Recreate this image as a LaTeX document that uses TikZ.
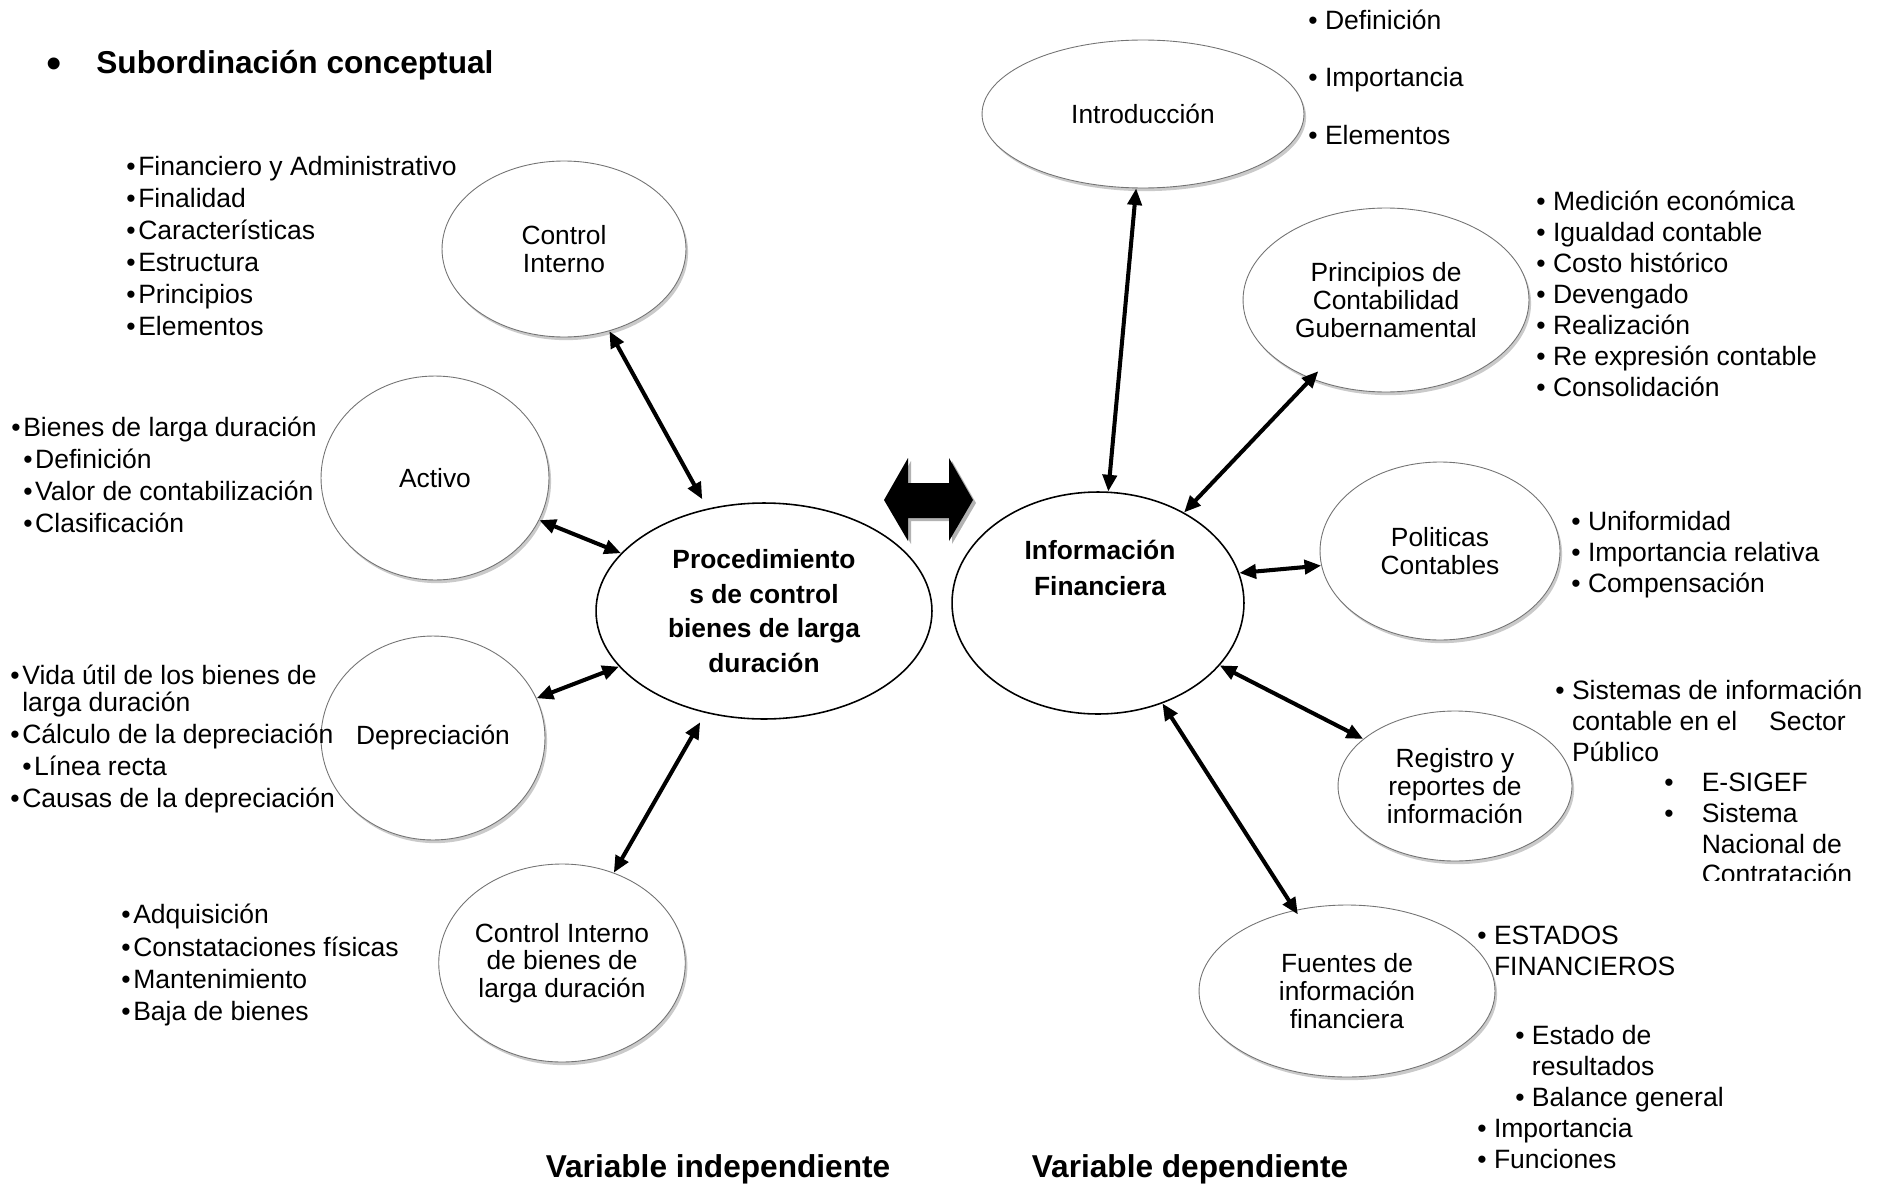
\documentclass[tikz,border=0pt]{standalone}
\usepackage{fontspec}
\setmainfont{Liberation Sans}
\usetikzlibrary{arrows.meta, shapes.geometric, shadows, positioning}

\newcommand{\itm}{\textbullet\kern1.5pt}
\newcommand{\ritm}{\textbullet\ }

\tikzset{
  bubble/.style={ellipse, draw=black!55, line width=0.5pt, fill=white, inner sep=0pt, align=center,
    drop shadow={shadow xshift=1.2pt, shadow yshift=-1.8pt, opacity=0.35, fill=black!60},
    font=\fontsize{15}{15.8}\selectfont},
  core/.style={ellipse, draw, line width=0.9pt, fill=white, inner sep=0pt, align=center,
    font=\bfseries\fontsize{15}{19.8}\selectfont},
  coretext/.style={inner sep=0pt, align=center, font=\bfseries\fontsize{15}{21}\selectfont},
  items/.style={anchor=north west, inner sep=0pt, align=left, font=\fontsize{15.1}{#1}\selectfont},
  items/.default=18.2pt,
  link/.style={<->, >={Triangle[length=9.5pt, width=8pt]}, line width=2.3pt},
  heading/.style={anchor=base, inner sep=0pt, font=\bfseries\fontsize{18}{22}\selectfont},
}

\begin{document}
\begin{tikzpicture}[x=0.02cm, y=-0.02cm]
\useasboundingbox (0,0) rectangle (1889,1186);

% title
\node[anchor=base, inner sep=0pt, font=\fontsize{25}{25}\selectfont] (tbul) at (54,79) {\textbullet};
\node[heading, anchor=base west] (title) at (96,73) {Subordinación conceptual};

% independent variable
\node[core, minimum width=6.72cm, minimum height=4.32cm] (proc) at (764,611)
  {Procedimiento\\s de control\\bienes de larga\\duración};
\node[bubble, minimum width=4.88cm, minimum height=3.52cm] (ci) at (564,249) {Control\\Interno};
\node[bubble, minimum width=4.56cm, minimum height=4.08cm] (act) at (435,478) {Activo};
\node[bubble, minimum width=4.48cm, minimum height=4.08cm] (dep) at (433,738) {Depreciación};
\node[bubble, minimum width=4.84cm, minimum height=3.96cm] (cib) at (562,963)
  {Control Interno\\de bienes de\\larga duración};

\node[items] (ci-list) at (126,156) {\itm Financiero y Administrativo\\\itm Finalidad\\
  \itm Características\\\itm Estructura\\\itm Principios\\\itm Elementos};
\node[items] (act-list) at (11,417) {\itm Bienes de larga duración\\
  \hspace*{6.8pt}\itm Definición\\\hspace*{6.8pt}\itm Valor de contabilización\\
  \hspace*{6.8pt}\itm Clasificación};
\node[items] (dep-list) at (10,665) {\itm Vida útil de los bienes de\\[-2.8pt]
  \phantom{\itm}larga duración\\\itm Cálculo de la depreciación\\
  \hspace*{6.8pt}\itm Línea recta\\\itm Causas de la depreciación};
\node[items=18.4pt] (cib-list) at (121,904) {\itm Adquisición\\\itm Constataciones físicas\\
  \itm Mantenimiento\\\itm Baja de bienes};

\draw[link, shorten >=6pt] (ci) -- (proc);
\draw[link] (act) -- (proc);
\draw[link] (dep) -- (proc);
\draw[link, shorten >=6pt] (cib) -- (proc);

% middle arrow
\begin{scope}[shift={(3,3)}]
  \fill[black!30] (884,500) -- (908,458) -- (908,483) -- (949,483) -- (949,458) -- (973,500)
    -- (949,541) -- (949,518) -- (908,518) -- (908,541) -- cycle;
\end{scope}
\fill (884,500) -- (908,458) -- (908,483) -- (949,483) -- (949,458) -- (973,500)
  -- (949,541) -- (949,518) -- (908,518) -- (908,541) -- cycle;

% dependent variable
\node[core, minimum width=5.84cm, minimum height=4.44cm] (info) at (1098,603) {};
\node[coretext] (info-text) at (1100,568) {Información\\Financiera};
\node[bubble, minimum width=6.44cm, minimum height=2.96cm] (intro) at (1143,114) {Introducción};
\node[bubble, minimum width=5.72cm, minimum height=3.68cm] (prin) at (1386,300)
  {Principios de\\Contabilidad\\Gubernamental};
\node[bubble, minimum width=4.8cm, minimum height=3.56cm] (pol) at (1440,551) {Politicas\\Contables};
\node[bubble, minimum width=4.68cm, minimum height=3.0cm] (reg) at (1455,786)
  {Registro y\\reportes de\\información};
\node[bubble, minimum width=5.92cm, minimum height=3.44cm] (fue) at (1347,991)
  {Fuentes de\\información\\financiera};

\node[items=32.5pt] (intro-list) at (1308,10) {\ritm Definición\\\ritm Importancia\\\ritm Elementos};
\node[items=17.6pt] (prin-list) at (1536,191) {\ritm Medición económica\\\ritm Igualdad contable\\
  \ritm Costo histórico\\\ritm Devengado\\\ritm Realización\\\ritm Re expresión contable\\
  \ritm Consolidación};
\node[items=17.5pt] (pol-list) at (1571,511) {\ritm Uniformidad\\\ritm Importancia relativa\\
  \ritm Compensación};
\node[items=17.4pt] (reg-list) at (1555,680) {\ritm Sistemas de información\\
  \phantom{\textbullet}\ contable en el\hspace{14pt} Sector\\\phantom{\textbullet}\ Público};
\begin{scope}
  \clip (1600,640) rectangle (1889,880);
  \node[items=17.4pt] (reg-sub) at (1664,773) {\textbullet\hspace{16pt}E-SIGEF\\
    \textbullet\hspace{16pt}Sistema\\\phantom{\textbullet}\hspace{16pt}Nacional de\\
    \phantom{\textbullet}\hspace{16pt}Contratación};
\end{scope}
\node[items=17.6pt] (fue-list) at (1477,926) {\ritm ESTADOS\\\phantom{\textbullet}\ FINANCIEROS\\[21.6pt]
  \hspace*{21.6pt}\ritm Estado de\\\hspace*{21.6pt}\phantom{\textbullet}\ resultados\\
  \hspace*{21.6pt}\ritm Balance general\\\ritm Importancia\\\ritm Funciones};

\draw[link] (intro) -- (info);
\draw[link, shorten <=-6pt] (prin) -- (info);
\draw[link] (info.12) -- (pol.187);
\draw[link] (info) -- (reg);
\draw[link, shorten >=-3pt] (info) -- (fue);

% bottom labels
\node[heading] (indep-label) at (718,1177) {Variable independiente};
\node[heading] (dep-label) at (1190,1177) {Variable dependiente};
\end{tikzpicture}
\end{document}
